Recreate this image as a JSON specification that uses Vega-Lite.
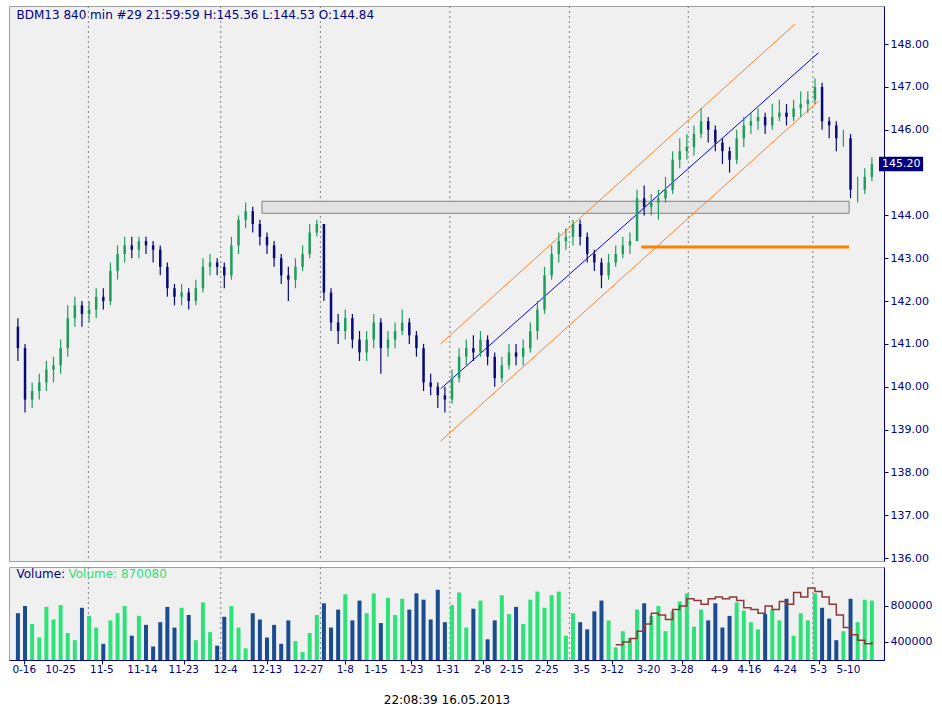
{
"$schema":"https://vega.github.io/schema/vega-lite/v6.json",
"background":"white",
"padding":{"left":8,"top":5,"right":5,"bottom":5},
"config":{"font":"DejaVu Sans","view":{"fill":"#f0f0f0","stroke":"#a0a0a0"},"axis":{"labelFont":"DejaVu Sans","labelFontSize":11,"labelColor":"#000080","domainColor":"#000080","tickColor":"#000080","grid":false}},
"spacing":2,
"datasets":{
"bars":[
{"i":0,"o":141.4,"c":140.9,"h":141.6,"l":140.6,"v":720000},
{"i":1,"o":140.9,"c":139.7,"h":141.0,"l":139.4,"v":800000},
{"i":2,"o":139.7,"c":139.9,"h":140.1,"l":139.5,"v":600000},
{"i":3,"o":139.9,"c":140.1,"h":140.3,"l":139.7,"v":450000},
{"i":4,"o":140.1,"c":140.4,"h":140.6,"l":139.9,"v":790000},
{"i":5,"o":140.4,"c":140.5,"h":140.7,"l":140.1,"v":650000},
{"i":6,"o":140.5,"c":140.9,"h":141.1,"l":140.3,"v":810000},
{"i":7,"o":140.9,"c":141.6,"h":141.9,"l":140.7,"v":500000},
{"i":8,"o":141.6,"c":141.9,"h":142.1,"l":141.4,"v":420000},
{"i":9,"o":141.9,"c":141.7,"h":142.0,"l":141.4,"v":780000},
{"i":10,"o":141.7,"c":141.8,"h":142.0,"l":141.5,"v":690000},
{"i":11,"o":141.8,"c":142.1,"h":142.3,"l":141.6,"v":560000},
{"i":12,"o":142.1,"c":142.0,"h":142.3,"l":141.8,"v":380000},
{"i":13,"o":142.0,"c":142.7,"h":142.9,"l":141.9,"v":640000},
{"i":14,"o":142.7,"c":143.1,"h":143.3,"l":142.5,"v":720000},
{"i":15,"o":143.1,"c":143.3,"h":143.5,"l":142.9,"v":800000},
{"i":16,"o":143.3,"c":143.2,"h":143.5,"l":143.0,"v":470000},
{"i":17,"o":143.2,"c":143.4,"h":143.5,"l":143.0,"v":690000},
{"i":18,"o":143.4,"c":143.3,"h":143.5,"l":143.1,"v":590000},
{"i":19,"o":143.3,"c":143.2,"h":143.4,"l":142.9,"v":350000},
{"i":20,"o":143.2,"c":142.8,"h":143.3,"l":142.6,"v":620000},
{"i":21,"o":142.8,"c":142.3,"h":142.9,"l":142.1,"v":790000},
{"i":22,"o":142.3,"c":142.1,"h":142.4,"l":141.9,"v":560000},
{"i":23,"o":142.1,"c":142.2,"h":142.4,"l":141.9,"v":780000},
{"i":24,"o":142.2,"c":142.0,"h":142.3,"l":141.8,"v":700000},
{"i":25,"o":142.0,"c":142.3,"h":142.5,"l":141.9,"v":420000},
{"i":26,"o":142.3,"c":142.8,"h":143.0,"l":142.2,"v":840000},
{"i":27,"o":142.8,"c":142.9,"h":143.1,"l":142.6,"v":510000},
{"i":28,"o":142.9,"c":142.8,"h":143.0,"l":142.6,"v":360000},
{"i":29,"o":142.8,"c":142.6,"h":142.9,"l":142.3,"v":680000},
{"i":30,"o":142.6,"c":143.3,"h":143.5,"l":142.5,"v":800000},
{"i":31,"o":143.3,"c":143.9,"h":144.0,"l":143.1,"v":560000},
{"i":32,"o":143.9,"c":144.1,"h":144.3,"l":143.7,"v":330000},
{"i":33,"o":144.1,"c":143.8,"h":144.2,"l":143.6,"v":720000},
{"i":34,"o":143.8,"c":143.5,"h":143.9,"l":143.3,"v":650000},
{"i":35,"o":143.5,"c":143.3,"h":143.6,"l":143.1,"v":450000},
{"i":36,"o":143.3,"c":143.0,"h":143.4,"l":142.8,"v":590000},
{"i":37,"o":143.0,"c":142.6,"h":143.1,"l":142.4,"v":380000},
{"i":38,"o":142.6,"c":142.5,"h":142.8,"l":142.0,"v":640000},
{"i":39,"o":142.5,"c":142.8,"h":143.0,"l":142.3,"v":410000},
{"i":40,"o":142.8,"c":143.1,"h":143.3,"l":142.7,"v":290000},
{"i":41,"o":143.1,"c":143.6,"h":143.8,"l":143.0,"v":500000},
{"i":42,"o":143.6,"c":143.8,"h":143.9,"l":143.5,"v":700000},
{"i":43,"o":143.8,"c":142.2,"h":143.8,"l":142.0,"v":830000},
{"i":44,"o":142.2,"c":141.5,"h":142.3,"l":141.3,"v":560000},
{"i":45,"o":141.5,"c":141.3,"h":141.7,"l":141.0,"v":760000},
{"i":46,"o":141.3,"c":141.6,"h":141.8,"l":141.1,"v":930000},
{"i":47,"o":141.6,"c":141.1,"h":141.7,"l":140.9,"v":640000},
{"i":48,"o":141.1,"c":140.8,"h":141.3,"l":140.6,"v":860000},
{"i":49,"o":140.8,"c":141.1,"h":141.3,"l":140.6,"v":720000},
{"i":50,"o":141.1,"c":141.5,"h":141.7,"l":140.9,"v":940000},
{"i":51,"o":141.5,"c":140.9,"h":141.6,"l":140.3,"v":610000},
{"i":52,"o":140.9,"c":141.1,"h":141.3,"l":140.7,"v":890000},
{"i":53,"o":141.1,"c":141.3,"h":141.5,"l":140.9,"v":700000},
{"i":54,"o":141.3,"c":141.5,"h":141.8,"l":141.2,"v":880000},
{"i":55,"o":141.5,"c":141.2,"h":141.6,"l":141.0,"v":760000},
{"i":56,"o":141.2,"c":140.9,"h":141.3,"l":140.7,"v":940000},
{"i":57,"o":140.9,"c":140.1,"h":141.0,"l":139.9,"v":870000},
{"i":58,"o":140.1,"c":140.0,"h":140.3,"l":139.8,"v":650000},
{"i":59,"o":140.0,"c":139.8,"h":140.1,"l":139.5,"v":980000},
{"i":60,"o":139.8,"c":139.7,"h":140.0,"l":139.4,"v":620000},
{"i":61,"o":139.7,"c":140.2,"h":140.4,"l":139.6,"v":810000},
{"i":62,"o":140.2,"c":140.7,"h":140.9,"l":140.1,"v":950000},
{"i":63,"o":140.7,"c":140.9,"h":141.1,"l":140.5,"v":560000},
{"i":64,"o":140.9,"c":140.8,"h":141.2,"l":140.6,"v":770000},
{"i":65,"o":140.8,"c":141.1,"h":141.3,"l":140.7,"v":860000},
{"i":66,"o":141.1,"c":140.7,"h":141.2,"l":140.5,"v":430000},
{"i":67,"o":140.7,"c":140.2,"h":140.8,"l":140.0,"v":640000},
{"i":68,"o":140.2,"c":140.5,"h":140.7,"l":140.1,"v":920000},
{"i":69,"o":140.5,"c":140.8,"h":141.0,"l":140.4,"v":710000},
{"i":70,"o":140.8,"c":140.7,"h":141.0,"l":140.5,"v":790000},
{"i":71,"o":140.7,"c":140.9,"h":141.1,"l":140.5,"v":600000},
{"i":72,"o":140.9,"c":141.3,"h":141.5,"l":140.8,"v":870000},
{"i":73,"o":141.3,"c":141.8,"h":142.0,"l":141.1,"v":960000},
{"i":74,"o":141.8,"c":142.6,"h":142.8,"l":141.7,"v":780000},
{"i":75,"o":142.6,"c":143.1,"h":143.3,"l":142.5,"v":920000},
{"i":76,"o":143.1,"c":143.4,"h":143.6,"l":142.9,"v":960000},
{"i":77,"o":143.4,"c":143.5,"h":143.7,"l":143.2,"v":470000},
{"i":78,"o":143.5,"c":143.8,"h":143.9,"l":143.3,"v":720000},
{"i":79,"o":143.8,"c":143.5,"h":143.9,"l":143.3,"v":620000},
{"i":80,"o":143.5,"c":143.1,"h":143.6,"l":142.9,"v":540000},
{"i":81,"o":143.1,"c":142.9,"h":143.2,"l":142.7,"v":740000},
{"i":82,"o":142.9,"c":142.6,"h":143.0,"l":142.3,"v":860000},
{"i":83,"o":142.6,"c":142.9,"h":143.1,"l":142.5,"v":640000},
{"i":84,"o":142.9,"c":143.1,"h":143.3,"l":142.8,"v":340000},
{"i":85,"o":143.1,"c":143.3,"h":143.5,"l":143.0,"v":520000},
{"i":86,"o":143.3,"c":143.4,"h":143.6,"l":143.1,"v":440000},
{"i":87,"o":143.4,"c":144.4,"h":144.6,"l":143.9,"v":760000},
{"i":88,"o":144.4,"c":144.2,"h":144.7,"l":144.0,"v":830000},
{"i":89,"o":144.2,"c":144.3,"h":144.5,"l":144.0,"v":690000},
{"i":90,"o":144.3,"c":144.4,"h":144.6,"l":143.9,"v":800000},
{"i":91,"o":144.4,"c":144.6,"h":144.9,"l":144.3,"v":520000},
{"i":92,"o":144.6,"c":145.3,"h":145.5,"l":144.5,"v":740000},
{"i":93,"o":145.3,"c":145.5,"h":145.8,"l":145.1,"v":850000},
{"i":94,"o":145.5,"c":145.6,"h":145.9,"l":145.3,"v":940000},
{"i":95,"o":145.6,"c":145.9,"h":146.1,"l":145.4,"v":570000},
{"i":96,"o":145.9,"c":146.2,"h":146.5,"l":145.8,"v":760000},
{"i":97,"o":146.2,"c":146.0,"h":146.3,"l":145.7,"v":640000},
{"i":98,"o":146.0,"c":145.7,"h":146.1,"l":145.5,"v":830000},
{"i":99,"o":145.7,"c":145.5,"h":145.8,"l":145.2,"v":560000},
{"i":100,"o":145.5,"c":145.3,"h":145.6,"l":145.0,"v":690000},
{"i":101,"o":145.3,"c":145.8,"h":146.0,"l":145.2,"v":840000},
{"i":102,"o":145.8,"c":146.1,"h":146.3,"l":145.6,"v":750000},
{"i":103,"o":146.1,"c":146.2,"h":146.4,"l":145.9,"v":620000},
{"i":104,"o":146.2,"c":146.3,"h":146.5,"l":146.0,"v":540000},
{"i":105,"o":146.3,"c":146.1,"h":146.4,"l":145.9,"v":710000},
{"i":106,"o":146.1,"c":146.3,"h":146.6,"l":146.0,"v":760000},
{"i":107,"o":146.3,"c":146.4,"h":146.7,"l":146.2,"v":640000},
{"i":108,"o":146.4,"c":146.3,"h":146.6,"l":146.1,"v":880000},
{"i":109,"o":146.3,"c":146.5,"h":146.7,"l":146.2,"v":470000},
{"i":110,"o":146.5,"c":146.6,"h":146.9,"l":146.3,"v":720000},
{"i":111,"o":146.6,"c":146.7,"h":146.9,"l":146.4,"v":640000},
{"i":112,"o":146.7,"c":147.0,"h":147.2,"l":146.6,"v":940000},
{"i":113,"o":147.0,"c":146.2,"h":147.1,"l":146.0,"v":780000},
{"i":114,"o":146.2,"c":146.1,"h":146.3,"l":145.8,"v":660000},
{"i":115,"o":146.1,"c":145.8,"h":146.2,"l":145.5,"v":420000},
{"i":116,"o":145.8,"c":145.8,"h":146.0,"l":145.6,"v":520000},
{"i":117,"o":145.8,"c":144.6,"h":145.9,"l":144.4,"v":880000},
{"i":118,"o":144.6,"c":144.6,"h":144.9,"l":144.3,"v":620000},
{"i":119,"o":144.6,"c":144.9,"h":145.1,"l":144.5,"v":870000},
{"i":120,"o":144.9,"c":145.2,"h":145.36,"l":144.8,"v":860000}
],
"grid":[{"g":9.9},{"g":28.5},{"g":42.5},{"g":60.7},{"g":77.5},{"g":94.2},{"g":111.7}],
"labs":[{"x":0.9,"t":"0-16"},{"x":6,"t":"10-25"},{"x":11.8,"t":"11-5"},{"x":17.5,"t":"11-14"},{"x":23.3,"t":"11-23"},{"x":29.2,"t":"12-4"},{"x":35,"t":"12-13"},{"x":40.8,"t":"12-27"},{"x":46,"t":"1-8"},{"x":50.3,"t":"1-15"},{"x":55.3,"t":"1-23"},{"x":60.4,"t":"1-31"},{"x":65.3,"t":"2-8"},{"x":69.4,"t":"2-15"},{"x":74.3,"t":"2-25"},{"x":79.2,"t":"3-5"},{"x":83.5,"t":"3-12"},{"x":88.6,"t":"3-20"},{"x":93.3,"t":"3-28"},{"x":98.6,"t":"4-9"},{"x":102.8,"t":"4-16"},{"x":107.8,"t":"4-24"},{"x":112.5,"t":"5-3"},{"x":116.7,"t":"5-10"}],
"chan":[
{"k":"mid","x":59.4,"y":139.95,"x2":112.5,"y2":147.8},
{"k":"up","x":59.4,"y":141.0,"x2":109.2,"y2":148.47},
{"k":"lo","x":59.4,"y":138.73,"x2":112.5,"y2":146.67}
],
"oi":[
{"i":84,"w":370000},{"i":85,"w":400000},{"i":86,"w":440000},{"i":87,"w":520000},{"i":88,"w":600000},{"i":89,"w":720000},{"i":90,"w":700000},{"i":91,"w":650000},{"i":92,"w":760000},{"i":93,"w":800000},{"i":94,"w":880000},{"i":95,"w":860000},{"i":96,"w":820000},{"i":97,"w":880000},{"i":98,"w":900000},{"i":99,"w":880000},{"i":100,"w":900000},{"i":101,"w":860000},{"i":102,"w":780000},{"i":103,"w":760000},{"i":104,"w":720000},{"i":105,"w":800000},{"i":106,"w":760000},{"i":107,"w":850000},{"i":108,"w":820000},{"i":109,"w":950000},{"i":110,"w":900000},{"i":111,"w":1000000},{"i":112,"w":960000},{"i":113,"w":900000},{"i":114,"w":820000},{"i":115,"w":700000},{"i":116,"w":560000},{"i":117,"w":480000},{"i":118,"w":420000},{"i":119,"w":380000},{"i":120,"w":400000}
]
},
"vconcat":[
{"width":875,"height":555,
"layer":[
{"data":{"name":"grid"},"mark":{"type":"rule","color":"#808080","strokeDash":[2,3],"strokeWidth":1},
 "encoding":{"x":{"field":"g","type":"quantitative","scale":{"domain":[-0.55,121],"nice":false,"zero":false},"axis":null}}},
{"data":{"values":[{"x":34.3,"x2":116.8,"y":144.33,"y2":144.05}]},"mark":{"type":"rect","fill":"#e2e2e2","stroke":"#808080","strokeWidth":1},
 "encoding":{"x":{"field":"x","type":"quantitative"},"x2":{"field":"x2"},"y":{"field":"y","type":"quantitative","scale":{"domain":[135.93,148.89],"nice":false,"zero":false},"axis":{"orient":"right","values":[136,137,138,139,140,141,142,143,144,146,147,148],"format":".2f","tickSize":4,"title":null}},"y2":{"field":"y2"}}},
{"data":{"name":"chan"},"mark":{"type":"rule","strokeWidth":1},
 "encoding":{"x":{"field":"x","type":"quantitative"},"x2":{"field":"x2"},"y":{"field":"y","type":"quantitative"},"y2":{"field":"y2"},
 "color":{"field":"k","type":"nominal","scale":{"domain":["mid","up","lo"],"range":["#0000ff","#ff7f27","#ff7f27"]},"legend":null}}},
{"data":{"values":[{"x":87.6,"x2":116.8,"y":143.26}]},"mark":{"type":"rule","color":"#ff7f00","strokeWidth":3},
 "encoding":{"x":{"field":"x","type":"quantitative"},"x2":{"field":"x2"},"y":{"field":"y","type":"quantitative"}}},
{"data":{"name":"bars"},"mark":{"type":"rule","strokeWidth":1.2},
 "encoding":{"x":{"field":"i","type":"quantitative"},"y":{"field":"l","type":"quantitative"},"y2":{"field":"h"},
 "color":{"condition":{"test":"datum.c >= datum.o","value":"#1e9e5e"},"value":"#0a0a78"}}},
{"data":{"name":"bars"},"mark":{"type":"bar","size":2.5},
 "encoding":{"x":{"field":"i","type":"quantitative"},"y":{"field":"o","type":"quantitative"},"y2":{"field":"c"},
 "color":{"condition":{"test":"datum.c >= datum.o","value":"#1e9e5e"},"value":"#0a0a78"}}},
{"data":{"values":[{"x":-0.2,"y":148.68,"t":"BDM13  840 min  #29 21:59:59 H:145.36 L:144.53 O:144.84"}]},"mark":{"type":"text","align":"left","baseline":"middle","fontSize":12,"color":"#000080"},
 "encoding":{"x":{"field":"x","type":"quantitative"},"y":{"field":"y","type":"quantitative"},"text":{"field":"t"}}},
{"data":{"values":[{"x":121,"x2":127.2,"y":145.37,"y2":145.03}]},"mark":{"type":"rect","color":"#000080","clip":false},
 "encoding":{"x":{"field":"x","type":"quantitative"},"x2":{"field":"x2"},"y":{"field":"y","type":"quantitative"},"y2":{"field":"y2"}}},
{"data":{"values":[{"x":121,"y":145.2,"t":"145.20"}]},"mark":{"type":"text","align":"left","dx":3,"baseline":"middle","fontSize":11,"color":"white","clip":false},
 "encoding":{"x":{"field":"x","type":"quantitative"},"y":{"field":"y","type":"quantitative"},"text":{"field":"t"}}}
]},
{"width":875,"height":93,
"layer":[
{"data":{"name":"grid"},"mark":{"type":"rule","color":"#808080","strokeDash":[2,3],"strokeWidth":1},
 "encoding":{"x":{"field":"g","type":"quantitative","scale":{"domain":[-0.55,121],"nice":false,"zero":false},
 "axis":{"values":[0.9,6,11.8,17.5,23.3,29.2,35,40.8,46,50.3,55.3,60.4,65.3,69.4,74.3,79.2,83.5,88.6,93.3,98.6,102.8,107.8,112.5,116.7],
 "labels":false,"tickSize":4,"title":"22:08:39 16.05.2013","titleFontWeight":"normal","titleFontSize":12,"titleColor":"black","titlePadding":30}}}},
{"data":{"name":"bars"},"mark":{"type":"bar","size":4,"clip":true},
 "encoding":{"x":{"field":"i","type":"quantitative"},"y":{"field":"v","type":"quantitative","scale":{"domain":[200000,1233000],"nice":false,"zero":false},"axis":{"orient":"right","values":[400000,800000],"format":"d","tickSize":4,"title":null}},
 "color":{"condition":{"test":"datum.c >= datum.o","value":"#2ee27a"},"value":"#1a4d8f"}}},
{"data":{"name":"oi"},"mark":{"type":"line","interpolate":"step-after","color":"#8b3a3a","strokeWidth":1.5},
 "encoding":{"x":{"field":"i","type":"quantitative"},"y":{"field":"w","type":"quantitative"}}},
{"data":{"name":"labs"},"mark":{"type":"text","baseline":"middle","fontSize":10.5,"color":"#000080","clip":false},
 "encoding":{"x":{"field":"x","type":"quantitative"},"y":{"datum":90000,"type":"quantitative"},"text":{"field":"t"}}},
{"data":{"values":[{"x":-0.2,"y":1150000,"t":"Volume:"}]},"mark":{"type":"text","align":"left","baseline":"middle","fontSize":12,"color":"#000080"},
 "encoding":{"x":{"field":"x","type":"quantitative"},"y":{"field":"y","type":"quantitative"},"text":{"field":"t"}}},
{"data":{"values":[{"x":-0.2,"y":1150000,"t":"Volume: 870080"}]},"mark":{"type":"text","align":"left","baseline":"middle","dx":52,"fontSize":12,"color":"#33dd77"},
 "encoding":{"x":{"field":"x","type":"quantitative"},"y":{"field":"y","type":"quantitative"},"text":{"field":"t"}}}
]}
]
}
